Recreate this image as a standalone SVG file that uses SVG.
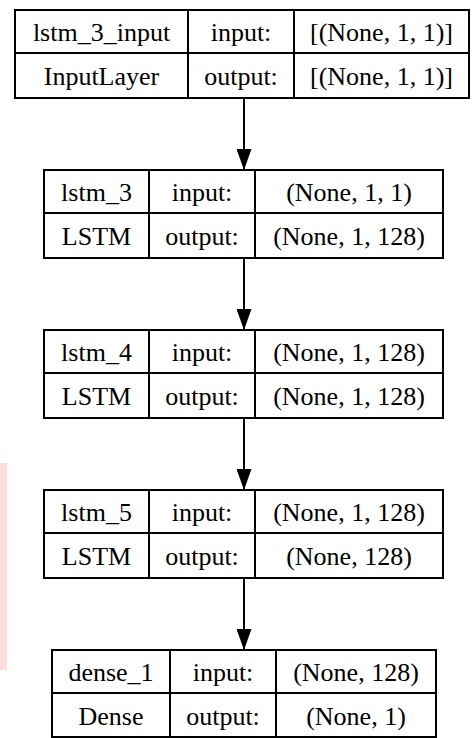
<svg xmlns="http://www.w3.org/2000/svg" width="472" height="738" viewBox="0 0 472 738">
<style>
.cell{fill:#fff;stroke:#000;stroke-width:2}
.div{stroke:#000;stroke-width:2;fill:none}
text{font-family:"Liberation Serif","Times New Roman",serif;font-size:26px;fill:#000;text-anchor:middle}
.edge{stroke:#000;stroke-width:2;fill:none;marker-end:url(#arrow)}
</style>
<defs>
<marker id="arrow" viewBox="0 0 21 15" refX="21" refY="7.5" markerWidth="21" markerHeight="15" markerUnits="userSpaceOnUse" orient="auto">
<path d="M0,0 L21,7.5 L0,15 Z" fill="#000"/>
</marker>
</defs>
<rect x="0" y="463" width="7" height="207" fill="#fddcde"/>
<g id="connectors">
<path class="edge" d="M244,98 V170"/>
<path class="edge" d="M244,258 V330"/>
<path class="edge" d="M244,418 V490"/>
<path class="edge" d="M244,578 V650"/>
</g>
<g id="lstm_3_input">
<rect class="cell" x="15" y="10" width="454" height="88"/>
<path class="div" d="M15,53 H469 M188,10 V98 M294,10 V98"/>
<text x="101.5" y="40.5">lstm_3_input</text>
<text x="241" y="40.5">input:</text>
<text x="381.5" y="40.5">[(None, 1, 1)]</text>
<text x="101.5" y="84.5">InputLayer</text>
<text x="241" y="84.5">output:</text>
<text x="381.5" y="84.5">[(None, 1, 1)]</text>
</g>
<g id="lstm_3">
<rect class="cell" x="44" y="170" width="399" height="88"/>
<path class="div" d="M44,213 H443 M149,170 V258 M255,170 V258"/>
<text x="96.5" y="200.5">lstm_3</text>
<text x="202" y="200.5">input:</text>
<text x="349" y="200.5">(None, 1, 1)</text>
<text x="96.5" y="244.5">LSTM</text>
<text x="202" y="244.5">output:</text>
<text x="349" y="244.5">(None, 1, 128)</text>
</g>
<g id="lstm_4">
<rect class="cell" x="44" y="330" width="399" height="88"/>
<path class="div" d="M44,373 H443 M149,330 V418 M255,330 V418"/>
<text x="96.5" y="360.5">lstm_4</text>
<text x="202" y="360.5">input:</text>
<text x="349" y="360.5">(None, 1, 128)</text>
<text x="96.5" y="404.5">LSTM</text>
<text x="202" y="404.5">output:</text>
<text x="349" y="404.5">(None, 1, 128)</text>
</g>
<g id="lstm_5">
<rect class="cell" x="44" y="490" width="399" height="88"/>
<path class="div" d="M44,533 H443 M149,490 V578 M255,490 V578"/>
<text x="96.5" y="520.5">lstm_5</text>
<text x="202" y="520.5">input:</text>
<text x="349" y="520.5">(None, 1, 128)</text>
<text x="96.5" y="564.5">LSTM</text>
<text x="202" y="564.5">output:</text>
<text x="349" y="564.5">(None, 128)</text>
</g>
<g id="dense_1">
<rect class="cell" x="52" y="650" width="384" height="87"/>
<path class="div" d="M52,693 H436 M170,650 V737 M276,650 V737"/>
<text x="111" y="680.5">dense_1</text>
<text x="223" y="680.5">input:</text>
<text x="356" y="680.5">(None, 128)</text>
<text x="111" y="724.5">Dense</text>
<text x="223" y="724.5">output:</text>
<text x="356" y="724.5">(None, 1)</text>
</g>
</svg>
